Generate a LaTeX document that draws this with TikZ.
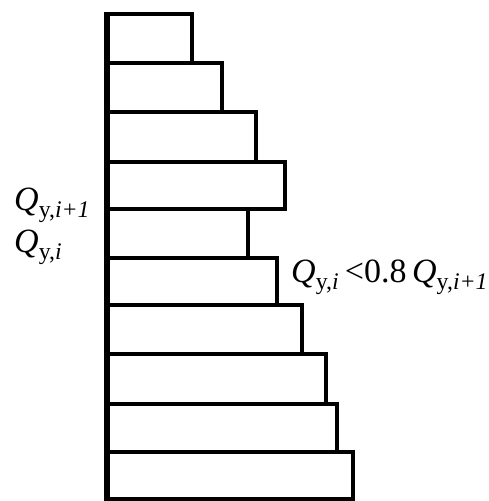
\documentclass[tikz,border=0pt]{standalone}
\usepackage{fontspec}
\setmainfont{Liberation Serif}
\newcommand{\Qsub}[1]{{\itshape Q}\textsubscript{\upshape y,\itshape #1}}
\begin{document}
\begin{tikzpicture}[x=1pt,y=-1pt,
  barbox/.style={draw=black,line width=3.2pt,fill=white},
  lbl/.style={inner sep=0pt,anchor=base west,font=\fontsize{34}{38}\selectfont}]
\useasboundingbox (0,0) rectangle (489,501);
% bars: top y, bottom y, right x
\foreach \ya/\yb/\xr in {14/63/192, 63/112/222, 112/162/256, 162/209/285, 209/258/248,
                         258/305/277, 305/354/302, 354/404/326, 404/452/337, 452/499/353}{
  \draw[barbox] (108,\ya) rectangle (\xr,\yb);
}
\draw[line width=6.5pt] (107,12) -- (107,501);
\node[lbl] (qa) at (14,210) {\Qsub{i+1}};
\node[lbl] (qb) at (14,252) {\Qsub{i}};
\node[lbl] (qc) at (291,282) {\Qsub{i}\,<0.8\,\Qsub{i+1}};
\end{tikzpicture}
\end{document}
